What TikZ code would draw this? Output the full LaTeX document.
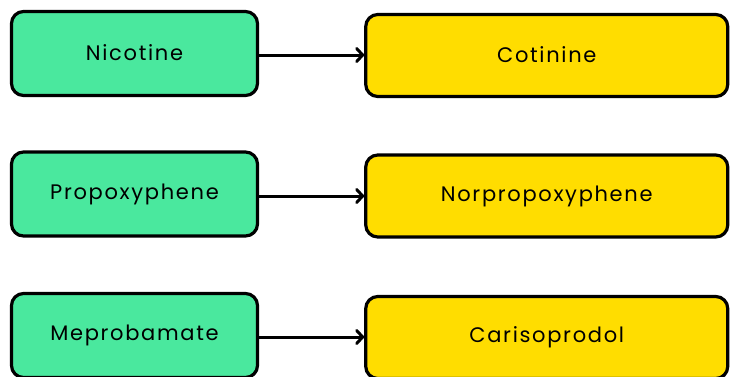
\documentclass[tikz,border=0pt]{standalone}
\usepackage{fontspec}
\setmainfont{Poppins}[LetterSpace=8]
\usetikzlibrary{arrows.meta}
\definecolor{gbox}{RGB}{74,232,158}
\definecolor{ybox}{RGB}{255,221,0}
\begin{document}
\begin{tikzpicture}[x=1pt,y=-1pt,
  srcbox/.style={draw=black,line width=3.2pt,rounded corners=12pt,fill=gbox,minimum width=246pt,minimum height=84pt,font=\fontsize{21}{24}\selectfont,inner sep=0pt},
  dstbox/.style={draw=black,line width=3.2pt,rounded corners=12pt,fill=ybox,minimum width=362pt,minimum height=82pt,font=\fontsize{21}{24}\selectfont,inner sep=0pt},
  conn/.style={line width=3pt,-{Straight Barb[length=6pt,width=13pt,line width=3pt,round]}}]
\useasboundingbox (0,0) rectangle (730,376);
\node[srcbox] (a1) at (134.5,53.5) {\raisebox{1.5pt}{Nicotine}};
\node[dstbox] (b1) at (546.75,55.5) {\raisebox{1.5pt}{Cotinine}};
\node[srcbox] (a2) at (134.5,194) {\raisebox{1.5pt}{Propoxyphene}};
\node[dstbox] (b2) at (546.75,196) {\raisebox{1.5pt}{Norpropoxyphene}};
\node[srcbox] (a3) at (134.5,335.5) {\raisebox{1.5pt}{Meprobamate}};
\node[dstbox] (b3) at (546.75,337.5) {\raisebox{1.5pt}{Carisoprodol}};
\draw[conn] (a1.east |- 0,55) -- (b1.west |- 0,55);
\draw[conn] (a2.east |- 0,196) -- (b2.west |- 0,196);
\draw[conn] (a3.east |- 0,337) -- (b3.west |- 0,337);
\end{tikzpicture}
\end{document}
